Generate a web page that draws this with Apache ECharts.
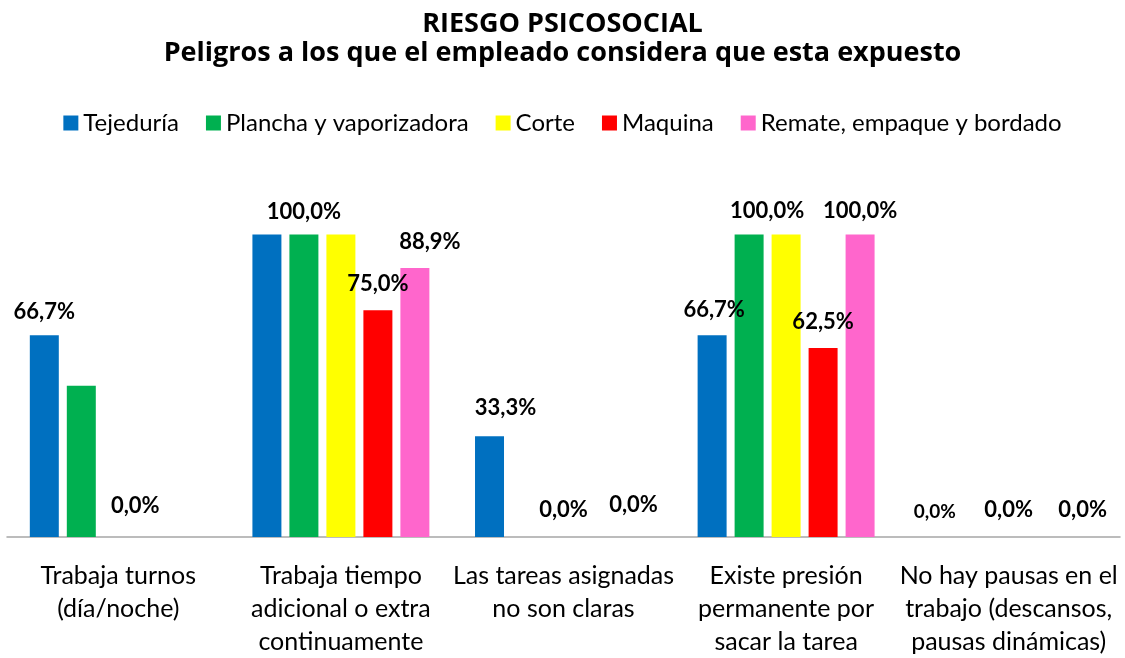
<!DOCTYPE html>
<html>
<head>
<meta charset="utf-8">
<title>Riesgo psicosocial</title>
<script src="https://cdn.jsdelivr.net/npm/echarts@6/dist/echarts.min.js"></script>
<style>
	html, body { margin: 0; padding: 0; background: #fff; }
	#myChart { width: 1125px; height: 658px; }
</style>
</head>
<body>
<div id="myChart"></div>
<script>
	var categorias = [
		'Trabaja turnos\n(día/noche)',
		'Trabaja tiempo\nadicional o extra\ncontinuamente',
		'Las tareas asignadas\nno son claras',
		'Existe presión\npermanente por\nsacar la tarea',
		'No hay pausas en el\ntrabajo (descansos,\npausas dinámicas)'
	];
	var series = ['Tejeduría', 'Plancha y vaporizadora', 'Corte', 'Maquina', 'Remate, empaque y bordado'];
	var tejeduria = [0.667, 1, 0.333, 0.667, 0];
	var plancha = [0.5, 1, 0, 1, 0];
	var corte = [0, 1, 0, 1, 0];
	var maquina = [0, 0.75, 0, 0.625, 0];
	var remate = [0, 0.889, 0, 1, 0];
	var colores = ['#0070C0', '#00B050', '#FFFF00', '#FF0000', '#FF66CC'];

	// etiquetas que se ven en el original: [serie, categoria, dx, dy]
	var etiquetas = [
		[0, 0, 0, -12], [2, 0, 17, -20],
		[1, 1, 0, -12], [3, 1, 0, -15], [4, 1, 15, -15],
		[0, 2, 16, -17], [2, 2, 0, -16], [4, 2, -4, -21],
		[0, 3, 2, -14], [1, 3, 18, -13], [3, 3, 0, -15], [4, 3, 0, -13],
		[0, 4, 0, -14], [2, 4, 0, -16], [4, 4, 0, -16]
	];

	var fuente = 'Lato, "Open Sans", sans-serif';

	function porcentaje(v) {
		return (v * 100).toFixed(1).replace('.', ',') + '%';
	}

	var valores = [tejeduria, plancha, corte, maquina, remate];
	var seriesOpt = valores.map(function(vals, s) {
		return {
			name: series[s],
			type: 'bar',
			barGap: '27.6%',
			barCategoryGap: '20.5%',
			itemStyle: { color: colores[s] },
			data: vals.map(function(v, c) {
				var item = { value: v, label: { show: false } };
				etiquetas.forEach(function(e) {
					if (e[0] === s && e[1] === c) {
						item.label = {
							show: true,
							position: 'top',
							distance: 0,
							offset: [e[2], e[3]],
							fontSize: (s === 0 && c === 4) ? 19 : 22,
							lineHeight: 22
						};
					}
				});
				return item;
			}),
			label: {
				formatter: function(p) { return porcentaje(p.value); },
				fontFamily: fuente,
				fontWeight: 'bold',
				color: '#000'
			}
		};
	});

	var myChart = echarts.init(document.getElementById('myChart'));
	myChart.setOption({
		animation: false,
		title: {
			text: 'RIESGO PSICOSOCIAL\nPeligros a los que el empleado considera que esta expuesto',
			left: 'center',
			top: 5,
			textStyle: {
				fontFamily: '"Open Sans", Lato, sans-serif',
				fontSize: 27,
				fontWeight: 'bold',
				lineHeight: 29,
				color: '#000'
			}
		},
		legend: {
			data: series,
			left: 'center',
			top: 106,
			icon: 'rect',
			itemWidth: 15,
			itemHeight: 15,
			itemGap: 27,
			textStyle: {
				fontFamily: fuente,
				fontSize: 24,
				lineHeight: 24,
				color: '#000'
			}
		},
		grid: {
			left: 7,
			right: 5,
			top: 234.5,
			bottom: 114
		},
		xAxis: {
			type: 'category',
			data: categorias,
			axisTick: { show: false },
			axisLine: { lineStyle: { color: '#a6a6a6', width: 1.5 } },
			axisLabel: {
				interval: 0,
				margin: 22,
				fontFamily: fuente,
				fontSize: 25,
				lineHeight: 33,
				color: '#000'
			}
		},
		yAxis: {
			type: 'value',
			min: 0,
			max: 1,
			show: false
		},
		series: seriesOpt
	});
</script>
</body>
</html>
